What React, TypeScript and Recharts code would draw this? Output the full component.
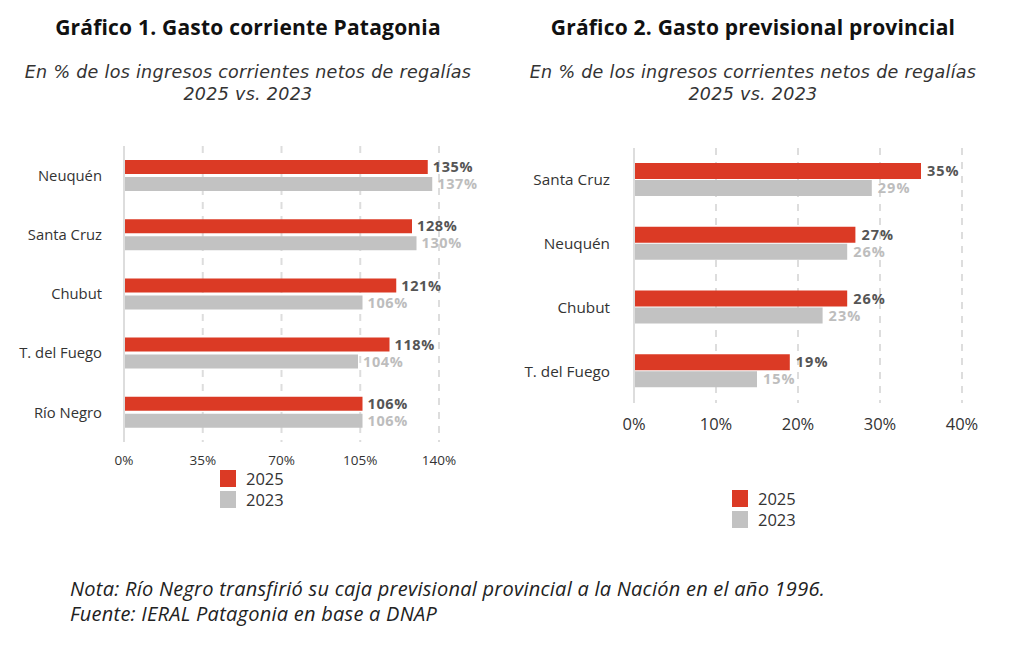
import { Bar, BarChart, CartesianGrid, LabelList, XAxis, YAxis } from 'recharts'

const FONT = '"Open Sans", "Noto Sans", sans-serif'
const SUB_FONT = '"DejaVu Sans", "Open Sans", sans-serif'
const RED = '#DB3A25'
const GRAY = '#C2C2C2'

// Gráfico 1
const PROVINCES_1 = ['Neuquén', 'Santa Cruz', 'Chubut', 'T. del Fuego', 'Río Negro']
const CORRIENTE_2025 = [135, 128, 121, 118, 106]
const CORRIENTE_2023 = [137, 130, 106, 104, 106]
const TICKS_1 = [0, 35, 70, 105, 140]

// Gráfico 2
const PROVINCES_2 = ['Santa Cruz', 'Neuquén', 'Chubut', 'T. del Fuego']
const PREVISIONAL_2025 = [35, 27, 26, 19]
const PREVISIONAL_2023 = [29, 26, 23, 15]
const TICKS_2 = [0, 10, 20, 30, 40]

const rows1 = PROVINCES_1.map((name, i) => ({ name, y2025: CORRIENTE_2025[i], y2023: CORRIENTE_2023[i] }))
const rows2 = PROVINCES_2.map((name, i) => ({ name, y2025: PREVISIONAL_2025[i], y2023: PREVISIONAL_2023[i] }))

const pct = (v: any) => `${v}%`

function Legend({ left, top }: { left: number; top: number }) {
  const item = (color: string, label: string) => (
    <div style={{ display: 'flex', alignItems: 'center', height: 21 }}>
      <span style={{ width: 16, height: 17, background: color, display: 'inline-block', marginRight: 10 }} />
      <span style={{ fontSize: 16.5, color: '#333', lineHeight: '17px' }}>{label}</span>
    </div>
  )
  return (
    <div style={{ position: 'absolute', left, top, fontFamily: FONT }}>
      {item(RED, '2025')}
      {item(GRAY, '2023')}
    </div>
  )
}

function Header({ center, title }: { center: number; title: string }) {
  return (
    <div style={{ position: 'absolute', left: center - 250, width: 500, top: 13, textAlign: 'center', fontFamily: FONT }}>
      <div style={{ fontWeight: 700, fontSize: 21, letterSpacing: 0.2, color: '#111', lineHeight: '28px' }}>{title}</div>
      <div
        style={{
          fontFamily: SUB_FONT,
          fontStyle: 'italic',
          fontSize: 17.5,
          letterSpacing: 0.3,
          color: '#333',
          lineHeight: '22px',
          marginTop: 20,
          whiteSpace: 'nowrap',
        }}
      >
        En % de los ingresos corrientes netos de regalías
        <br />
        2025 vs. 2023
      </div>
    </div>
  )
}

export default function App() {
  return (
    <div style={{ position: 'absolute', left: 0, top: 0, width: 1024, height: 650, background: '#fff', fontFamily: FONT }}>
      <Header center={248} title="Gráfico 1. Gasto corriente Patagonia" />
      <Header center={753} title="Gráfico 2. Gasto previsional provincial" />

      <div style={{ position: 'absolute', left: 0, top: 0 }}>
        <BarChart
          width={500}
          height={480}
          data={rows1}
          layout="vertical"
          margin={{ top: 146, right: 61, left: 14, bottom: 8 }}
          barGap={3}
        >
          <CartesianGrid horizontal={false} stroke="#DDDDDD" strokeDasharray="7 7" strokeWidth={2} />
          <XAxis
            type="number"
            domain={[0, 140]}
            ticks={TICKS_1}
            tickFormatter={pct}
            axisLine={false}
            tickLine={false}
            height={30}
            tick={{ fontSize: 13.5, fill: '#333' }}
            tickMargin={7}
          />
          <YAxis
            type="category"
            dataKey="name"
            width={110}
            axisLine={{ stroke: '#DDDDDD', strokeWidth: 2 }}
            tickLine={false}
            tickMargin={16}
            tick={{ fontSize: 14.8, fill: '#333' }}
          />
          <Bar dataKey="y2025" fill={RED} barSize={14} isAnimationActive={false}>
            <LabelList dataKey="y2025" position="right" offset={5} formatter={pct} fill="#555" fontSize={14.5} fontWeight={700} letterSpacing={0.6} />
          </Bar>
          <Bar dataKey="y2023" fill={GRAY} barSize={14} isAnimationActive={false}>
            <LabelList dataKey="y2023" position="right" offset={5} formatter={pct} fill="#BDBDBD" fontSize={14.5} fontWeight={700} letterSpacing={0.6} />
          </Bar>
        </BarChart>
      </div>
      <Legend left={220} top={468} />

      <div style={{ position: 'absolute', left: 500, top: 0 }}>
        <BarChart
          width={524}
          height={440}
          data={rows2}
          layout="vertical"
          margin={{ top: 148, right: 62, left: 24, bottom: 7 }}
          barGap={1}
        >
          <CartesianGrid horizontal={false} stroke="#DDDDDD" strokeDasharray="7 7" strokeWidth={2} />
          <XAxis
            type="number"
            domain={[0, 40]}
            ticks={TICKS_2}
            tickFormatter={pct}
            axisLine={false}
            tickLine={false}
            height={30}
            tick={{ fontSize: 16.5, fill: '#333' }}
            tickMargin={9}
          />
          <YAxis
            type="category"
            dataKey="name"
            width={110}
            axisLine={{ stroke: '#DDDDDD', strokeWidth: 2 }}
            tickLine={false}
            tickMargin={18}
            tick={{ fontSize: 15.3, fill: '#333' }}
          />
          <Bar dataKey="y2025" fill={RED} barSize={16} isAnimationActive={false}>
            <LabelList dataKey="y2025" position="right" offset={6} formatter={pct} fill="#555" fontSize={14.5} fontWeight={700} letterSpacing={1} />
          </Bar>
          <Bar dataKey="y2023" fill={GRAY} barSize={16} isAnimationActive={false}>
            <LabelList dataKey="y2023" position="right" offset={6} formatter={pct} fill="#BDBDBD" fontSize={14.5} fontWeight={700} letterSpacing={1} />
          </Bar>
        </BarChart>
      </div>
      <Legend left={732} top={488} />

      <div
        style={{
          position: 'absolute',
          left: 70,
          top: 576,
          fontStyle: 'italic',
          fontSize: 20,
          letterSpacing: 0.25,
          color: '#222',
          lineHeight: '25px',
          whiteSpace: 'nowrap',
        }}
      >
        Nota: Río Negro transfirió su caja previsional provincial a la Nación en el año 1996.
        <br />
        Fuente: IERAL Patagonia en base a DNAP
      </div>
    </div>
  )
}
